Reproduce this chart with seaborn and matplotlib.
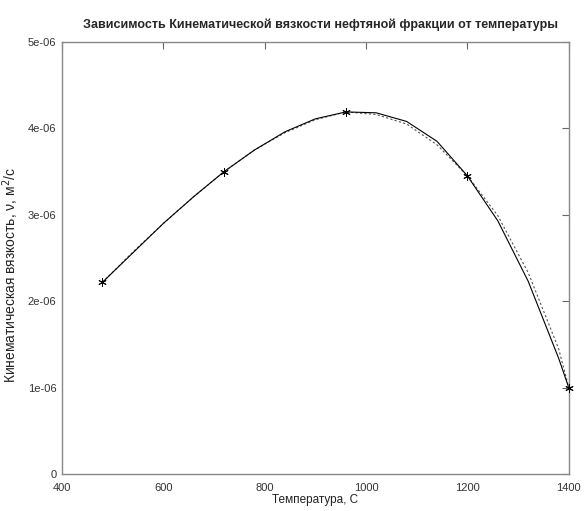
import matplotlib
matplotlib.use("Agg")
import matplotlib.pyplot as plt
from matplotlib.ticker import FuncFormatter
import seaborn as sns

# measured points (temperature, C / kinematic viscosity, m^2/s)
temp_nodes = [480, 720, 960, 1200, 1400]
visc_nodes = [2.22e-6, 3.50e-6, 4.19e-6, 3.45e-6, 1.00e-6]

# curves
temp_grid = [480, 540, 600, 660, 720, 780, 840, 900, 960, 1020,
             1080, 1140, 1200, 1260, 1320, 1380, 1400]
visc_solid = [2.22e-6, 2.56e-6, 2.90e-6, 3.21e-6, 3.50e-6, 3.75e-6, 3.96e-6, 4.11e-6, 4.19e-6,
              4.18e-6, 4.08e-6, 3.85e-6, 3.45e-6, 2.93e-6, 2.23e-6, 1.34e-6, 1.00e-6]
visc_dotted = [2.22e-6, 2.57e-6, 2.90e-6, 3.21e-6, 3.50e-6, 3.75e-6, 3.95e-6, 4.10e-6, 4.19e-6,
               4.16e-6, 4.05e-6, 3.81e-6, 3.45e-6, 2.99e-6, 2.33e-6, 1.45e-6, 1.00e-6]

x_ticks = [400, 600, 800, 1000, 1200, 1400]
y_ticks = [0, 1e-6, 2e-6, 3e-6, 4e-6, 5e-6]

sns.set_style("white")
plt.rcParams['font.family'] = ['Liberation Sans', 'DejaVu Sans']

fig = plt.figure(figsize=(5.84, 5.11), dpi=100)
ax = fig.add_axes([0.106, 0.072, 0.868, 0.846])

sns.lineplot(x=temp_grid, y=visc_dotted, ax=ax, color="#555555", linewidth=0.8,
             sort=False, estimator=None)
ax.lines[-1].set_dashes((2, 2))
sns.lineplot(x=temp_grid, y=visc_solid, ax=ax, color="black", linewidth=0.8,
             sort=False, estimator=None)
ax.plot(temp_nodes, visc_nodes, linestyle="none", marker=(6, 2, 0), markersize=6,
        markeredgecolor="black", markeredgewidth=0.7, clip_on=False, zorder=5)

ax.set_xlim(400, 1400)
ax.set_ylim(0, 5e-6)
ax.set_xticks(x_ticks)
ax.set_yticks(y_ticks)
ax.yaxis.set_major_formatter(FuncFormatter(lambda v, p: "0" if v == 0 else f"{v:.0e}"))

for sp in ax.spines.values():
    sp.set_color("#888888")
    sp.set_linewidth(1.0)
ax.tick_params(direction="in", length=5, width=0.8, color="#666666",
               labelsize=8, labelcolor="#333333", top=True, right=True, pad=4)
ax.tick_params(axis="x", pad=6)

ax.set_title("Зависимость Кинематической вязкости нефтяной фракции от температуры",
             fontsize=9, fontweight="bold", pad=10, x=0.51)
ax.set_xlabel("Температура, С", fontsize=8.5, color="#222222", labelpad=1)
ax.set_ylabel(r"Кинематическая вязкость, ν, м$^2$/с", fontsize=10, color="#222222")
ax.yaxis.set_label_coords(-0.08, 0.46)

fig.savefig("out.png", dpi=100)
